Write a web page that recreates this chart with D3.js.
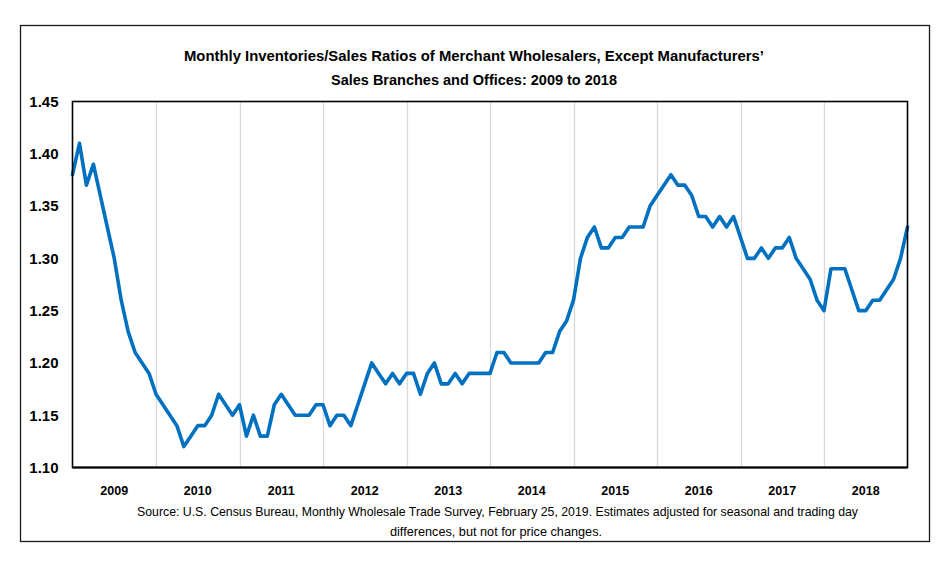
<!DOCTYPE html>
<html>
<head>
<meta charset="utf-8">
<script src="https://d3js.org/d3.v7.min.js"></script>
<style>
  body { margin: 0; background: #fff; }
  text { font-family: "Liberation Sans", Arial, sans-serif; }
</style>
</head>
<body>
<div id="chart"></div>
<script>
// monthly inventories/sales ratio, one value per month, Jan 2009 .. Jan 2019
const ratios = [
  1.38, 1.41, 1.37, 1.39, 1.36, 1.33, 1.30, 1.26, 1.23, 1.21, 1.20, 1.19,
  1.17, 1.16, 1.15, 1.14, 1.12, 1.13, 1.14, 1.14, 1.15, 1.17, 1.16, 1.15,
  1.16, 1.13, 1.15, 1.13, 1.13, 1.16, 1.17, 1.16, 1.15, 1.15, 1.15, 1.16,
  1.16, 1.14, 1.15, 1.15, 1.14, 1.16, 1.18, 1.20, 1.19, 1.18, 1.19, 1.18,
  1.19, 1.19, 1.17, 1.19, 1.20, 1.18, 1.18, 1.19, 1.18, 1.19, 1.19, 1.19,
  1.19, 1.21, 1.21, 1.20, 1.20, 1.20, 1.20, 1.20, 1.21, 1.21, 1.23, 1.24,
  1.26, 1.30, 1.32, 1.33, 1.31, 1.31, 1.32, 1.32, 1.33, 1.33, 1.33, 1.35,
  1.36, 1.37, 1.38, 1.37, 1.37, 1.36, 1.34, 1.34, 1.33, 1.34, 1.33, 1.34,
  1.32, 1.30, 1.30, 1.31, 1.30, 1.31, 1.31, 1.32, 1.30, 1.29, 1.28, 1.26,
  1.25, 1.29, 1.29, 1.29, 1.27, 1.25, 1.25, 1.26, 1.26, 1.27, 1.28, 1.30,
  1.33
];
const years = ["2009", "2010", "2011", "2012", "2013", "2014", "2015", "2016", "2017", "2018"];
const yTicks = [1.10, 1.15, 1.20, 1.25, 1.30, 1.35, 1.40, 1.45];
const titleLines = [
  "Monthly Inventories/Sales Ratios of Merchant Wholesalers, Except Manufacturers\u2019",
  "Sales Branches and Offices: 2009 to 2018"
];
const sourceLines = [
  "Source: U.S. Census Bureau, Monthly Wholesale Trade Survey, February 25, 2019. Estimates adjusted for seasonal and trading day",
  "differences, but not for price changes."
];

const W = 946, H = 565;
const plot = {left: 72.5, right: 907.5, top: 101.5, bottom: 467.5};

const svg = d3.select("#chart")
    .append("svg")
    .attr("width", W)
    .attr("height", H);

// outer frame
svg.append("rect")
    .attr("x", 20.5).attr("y", 25.5)
    .attr("width", 909).attr("height", 516)
    .attr("fill", "none")
    .attr("stroke", "#1a1a1a")
    .attr("stroke-width", 1.3);

const x = d3.scaleLinear()
    .domain([0, ratios.length - 1])
    .range([plot.left, plot.right]);

const xYear = d3.scaleBand()
    .domain(years)
    .range([plot.left, plot.right]);

const y = d3.scaleLinear()
    .domain([1.10, 1.45])
    .range([plot.bottom, plot.top]);

// vertical year gridlines
svg.append("g")
    .selectAll("line")
    .data(years.slice(1))
    .join("line")
    .attr("x1", d => Math.round(xYear(d)) + 0.5)
    .attr("x2", d => Math.round(xYear(d)) + 0.5)
    .attr("y1", plot.top)
    .attr("y2", plot.bottom)
    .attr("stroke", "#d9d9d9")
    .attr("stroke-width", 1.3);

// y axis labels
svg.append("g")
    .attr("transform", `translate(${plot.left},0)`)
    .call(d3.axisLeft(y).tickValues(yTicks).tickFormat(d3.format(".2f")).tickSize(0).tickPadding(14))
    .call(g => g.select(".domain").remove())
    .selectAll("text")
    .attr("font-family", "Liberation Sans, Arial, sans-serif")
    .attr("font-size", 15)
    .attr("font-weight", "bold")
    .attr("fill", "#000");

// year labels
svg.append("g")
    .selectAll("text")
    .data(years)
    .join("text")
    .attr("x", d => xYear(d) + xYear.bandwidth() / 2)
    .attr("y", 495)
    .attr("text-anchor", "middle")
    .attr("font-size", 12.5)
    .attr("font-weight", "bold")
    .text(d => d);

// the line
const line = d3.line()
    .x((d, i) => x(i))
    .y(d => y(d));

svg.append("path")
    .datum(ratios)
    .attr("d", line)
    .attr("fill", "none")
    .attr("stroke", "#0070c0")
    .attr("stroke-width", 3.6)
    .attr("stroke-linejoin", "round")
    .attr("stroke-linecap", "round");

// plot border
svg.append("rect")
    .attr("x", plot.left).attr("y", plot.top)
    .attr("width", plot.right - plot.left)
    .attr("height", plot.bottom - plot.top)
    .attr("fill", "none")
    .attr("stroke", "#000")
    .attr("stroke-width", 1.6);

svg.append("line")
    .attr("x1", plot.left).attr("x2", plot.right)
    .attr("y1", plot.bottom).attr("y2", plot.bottom)
    .attr("stroke", "#000")
    .attr("stroke-width", 2.2);

// title
svg.append("g")
    .selectAll("text")
    .data(titleLines)
    .join("text")
    .attr("x", 474)
    .attr("y", (d, i) => 61 + i * 24)
    .attr("text-anchor", "middle")
    .attr("font-size", 15)
    .attr("font-weight", "bold")
    .attr("textLength", (d, i) => i == 0 ? 580 : 286)
    .attr("lengthAdjust", "spacingAndGlyphs")
    .text(d => d);

// source note
svg.append("g")
    .selectAll("text")
    .data(sourceLines)
    .join("text")
    .attr("x", (d, i) => i == 0 ? 497.5 : 496)
    .attr("y", (d, i) => 516 + i * 20)
    .attr("text-anchor", "middle")
    .attr("font-size", 13)
    .attr("textLength", (d, i) => i == 0 ? 721 : 212)
    .attr("lengthAdjust", "spacingAndGlyphs")
    .text(d => d);
</script>
</body>
</html>
